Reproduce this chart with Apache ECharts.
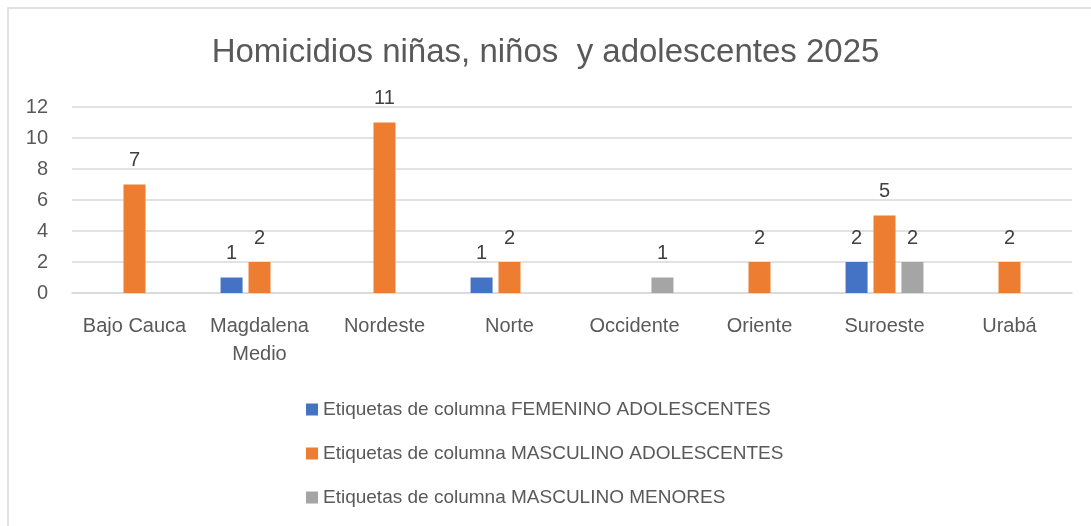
<!DOCTYPE html>
<html>
<head>
<meta charset="utf-8">
<script src="https://cdn.jsdelivr.net/npm/echarts@6/dist/echarts.min.js"></script>
<style>
  html, body { margin: 0; padding: 0; background: #fff; }
  #main { width: 1091px; height: 526px; }
</style>
</head>
<body>
<div id="main"></div>
<script>
// datos
var regiones = ['Bajo Cauca', 'Magdalena\nMedio', 'Nordeste', 'Norte', 'Occidente', 'Oriente', 'Suroeste', 'Urabá'];
var femeninoAdol = [null, 1, null, 1, null, null, 2, null];
var masculinoAdol = [7, 2, 11, 2, null, 2, 5, 2];
var masculinoMen = [null, null, null, null, 1, null, 2, null];
var nombres = [
  'Etiquetas de columna FEMENINO ADOLESCENTES',
  'Etiquetas de columna MASCULINO ADOLESCENTES',
  'Etiquetas de columna MASCULINO MENORES'
];
var colores = ['#4472C4', '#ED7D31', '#A5A5A5'];

var fuente = '"Liberation Sans", Arial, sans-serif';

function serie(nombre, datos, color) {
  return {
    name: nombre,
    type: 'bar',
    data: datos,
    barWidth: 22,
    barGap: '27%',
    itemStyle: { color: color },
    label: {
      show: true,
      position: 'top',
      distance: 14,
      color: '#404040',
      fontSize: 20,
      fontFamily: fuente
    },
    animation: false
  };
}

var myChart = echarts.init(document.getElementById('main'));
myChart.setOption({
  backgroundColor: '#fff',
  textStyle: { fontFamily: fuente },
  title: {
    text: 'Homicidios niñas, niños  y adolescentes 2025',
    left: 'center',
    top: 31,
    textStyle: { fontSize: 33, fontWeight: 'normal', color: '#595959', fontFamily: fuente }
  },
  graphic: [{
    type: 'rect',
    shape: { x: 8, y: 8, width: 1200, height: 600 },
    style: { fill: 'none', stroke: '#D9D9D9', lineWidth: 1.5 },
    silent: true
  }],
  legend: {
    orient: 'vertical',
    left: 301,
    top: 395,
    itemWidth: 12,
    itemHeight: 12,
    itemGap: 25,
    icon: 'rect',
    data: nombres,
    textStyle: { fontSize: 19, color: '#595959', fontFamily: fuente }
  },
  grid: {
    left: 72,
    right: 19,
    top: 107,
    height: 186
  },
  xAxis: {
    type: 'category',
    data: regiones,
    axisTick: { show: false },
    axisLine: { lineStyle: { color: '#D9D9D9', width: 1.5 } },
    axisLabel: {
      interval: 0,
      margin: 19,
      fontSize: 20,
      lineHeight: 28,
      color: '#595959',
      fontFamily: fuente
    }
  },
  yAxis: {
    type: 'value',
    min: 0,
    max: 12,
    interval: 2,
    axisLine: { show: false },
    axisTick: { show: false },
    splitLine: { lineStyle: { color: '#D9D9D9', width: 1.5 } },
    axisLabel: { margin: 24, fontSize: 20, color: '#595959', fontFamily: fuente }
  },
  series: [
    serie(nombres[0], femeninoAdol, colores[0]),
    serie(nombres[1], masculinoAdol, colores[1]),
    serie(nombres[2], masculinoMen, colores[2])
  ]
});
</script>
</body>
</html>
